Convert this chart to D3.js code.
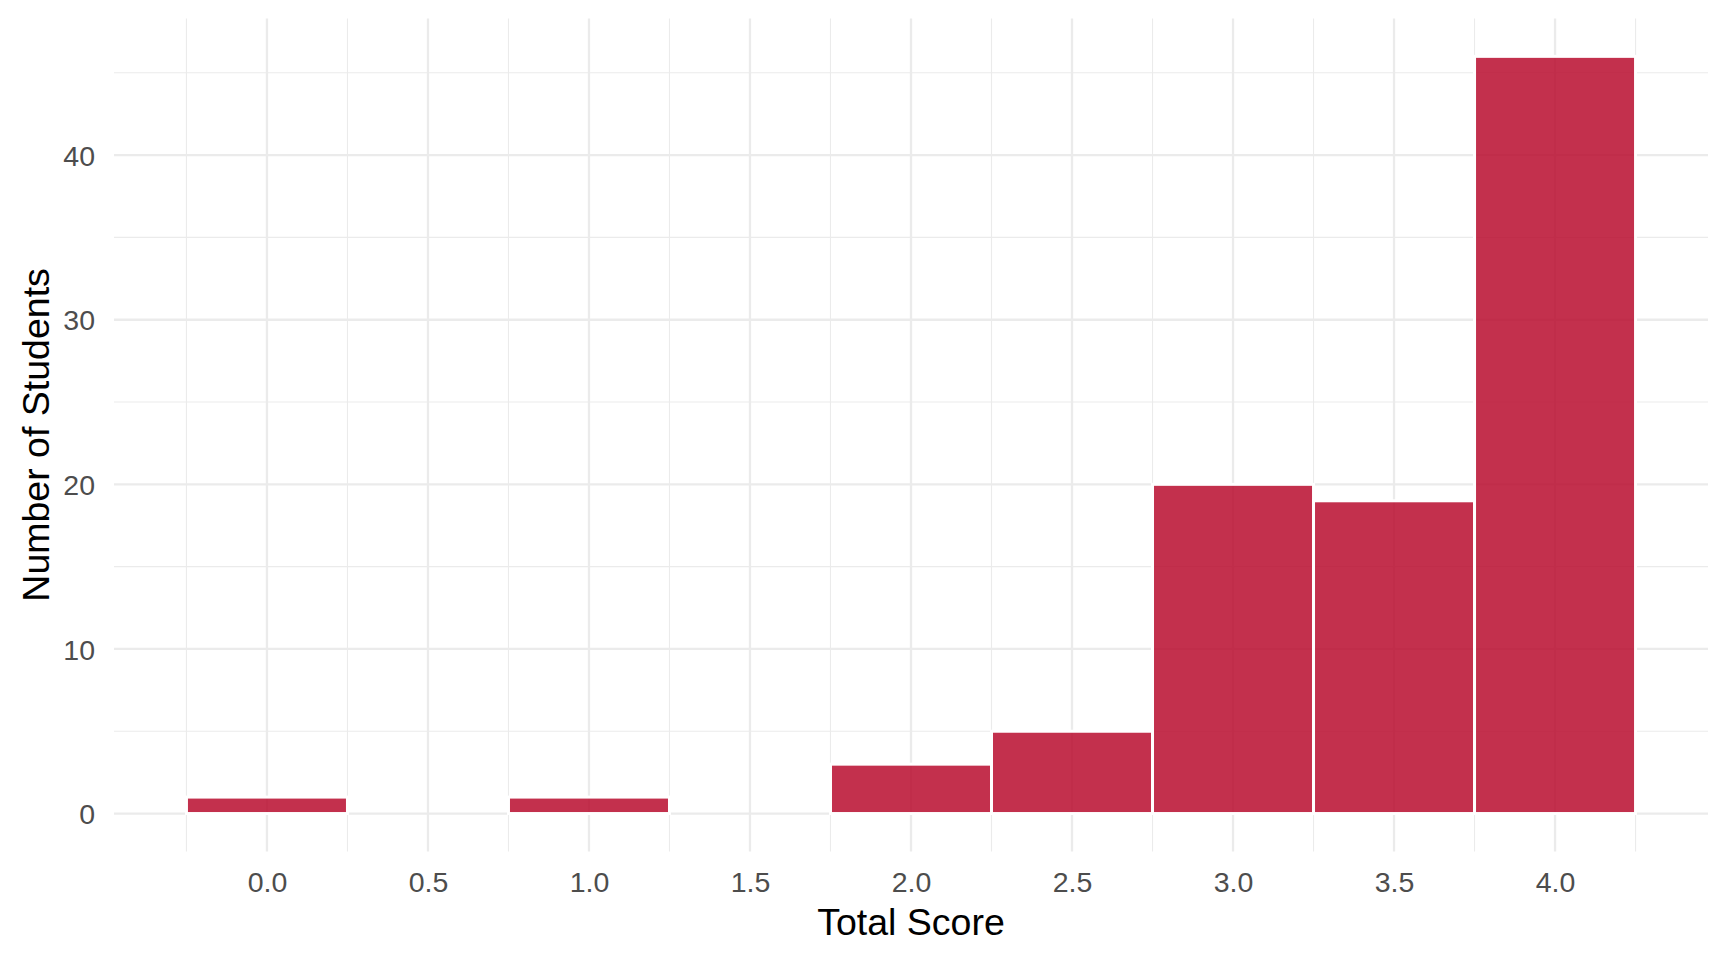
<!DOCTYPE html>
<html>
<head>
<meta charset="utf-8">
<script src="https://cdn.jsdelivr.net/npm/d3@7"></script>
<style>
  html, body { margin: 0; padding: 0; background: #ffffff; }
  svg { display: block; }
  text { font-family: "Liberation Sans", Arial, sans-serif; }
</style>
</head>
<body>
<svg id="chart" width="1728" height="960"></svg>
<script>
// ---- data ----
const binCenters = [0.0, 0.5, 1.0, 1.5, 2.0, 2.5, 3.0, 3.5, 4.0];
const counts     = [1, 0, 1, 0, 3, 5, 20, 19, 46];
const binWidth   = 0.5;
const xTickValues = [0.0, 0.5, 1.0, 1.5, 2.0, 2.5, 3.0, 3.5, 4.0];
const xTickLabels = ["0.0", "0.5", "1.0", "1.5", "2.0", "2.5", "3.0", "3.5", "4.0"];
const yTickValues = [0, 10, 20, 30, 40];
const yTickLabels = ["0", "10", "20", "30", "40"];
const xMinorValues = [-0.25, 0.25, 0.75, 1.25, 1.75, 2.25, 2.75, 3.25, 3.75, 4.25];
const yMinorValues = [5, 15, 25, 35, 45];
const xTitle = "Total Score";
const yTitle = "Number of Students";

// ---- layout ----
const svg = d3.select("#chart");
const panel = { left: 114, right: 1708, top: 18.5, bottom: 851.4 };

const xMin = d3.min(binCenters) - binWidth / 2, xMax = d3.max(binCenters) + binWidth / 2;
const xPad = (xMax - xMin) * 0.05;
const yMax = d3.max(counts);
const yPad = yMax * 0.05;

const x = d3.scaleLinear().domain([xMin - xPad, xMax + xPad]).range([panel.left, panel.right]);
const y = d3.scaleLinear().domain([-yPad, yMax + yPad]).range([panel.bottom, panel.top]);

const grid = svg.append("g").attr("class", "grid");
const gridColor = "#EBEBEB";

// minor grid
grid.append("g").selectAll("line").data(yMinorValues).join("line")
  .attr("x1", panel.left).attr("x2", panel.right)
  .attr("y1", d => y(d)).attr("y2", d => y(d))
  .attr("stroke", gridColor).attr("stroke-width", 1.1);
grid.append("g").selectAll("line").data(xMinorValues).join("line")
  .attr("y1", panel.top).attr("y2", panel.bottom)
  .attr("x1", d => x(d)).attr("x2", d => x(d))
  .attr("stroke", gridColor).attr("stroke-width", 1.1);
// major grid
grid.append("g").selectAll("line").data(yTickValues).join("line")
  .attr("x1", panel.left).attr("x2", panel.right)
  .attr("y1", d => y(d)).attr("y2", d => y(d))
  .attr("stroke", gridColor).attr("stroke-width", 2.3);
grid.append("g").selectAll("line").data(xTickValues).join("line")
  .attr("y1", panel.top).attr("y2", panel.bottom)
  .attr("x1", d => x(d)).attr("x2", d => x(d))
  .attr("stroke", gridColor).attr("stroke-width", 2.3);

// bars
const bins = binCenters.map((c, i) => ({ x0: c - binWidth / 2, x1: c + binWidth / 2, n: counts[i] }));
svg.append("g").selectAll("rect").data(bins).join("rect")
  .attr("x", d => x(d.x0))
  .attr("width", d => x(d.x1) - x(d.x0))
  .attr("y", d => y(d.n))
  .attr("height", d => y(0) - y(d.n))
  .attr("fill", "#B80C2E")
  .attr("fill-opacity", 0.85)
  .attr("stroke", "#ffffff")
  .attr("stroke-width", 3);

// x axis labels
const xAxis = d3.axisBottom(x).tickValues(xTickValues)
  .tickFormat((d, i) => xTickLabels[i]).tickSize(0).tickPadding(0);
const gx = svg.append("g").call(xAxis);
gx.select(".domain").remove();
gx.selectAll("text")
  .attr("y", 892).attr("dy", null)
  .attr("fill", "#4D4D4D")
  .style("font-size", "28.5px")
  .style("font-family", "'Liberation Sans', Arial, sans-serif");

// y axis labels
const yAxis = d3.axisLeft(y).tickValues(yTickValues)
  .tickFormat((d, i) => yTickLabels[i]).tickSize(0).tickPadding(0);
const gy = svg.append("g").attr("transform", "translate(95,0)").call(yAxis);
gy.select(".domain").remove();
gy.selectAll("text")
  .attr("x", 0).attr("dy", "0.36em")
  .attr("fill", "#4D4D4D")
  .style("font-size", "28.5px")
  .style("font-family", "'Liberation Sans', Arial, sans-serif");

// titles
svg.append("text")
  .attr("x", (panel.left + panel.right) / 2).attr("y", 935)
  .attr("text-anchor", "middle")
  .attr("fill", "#000000")
  .style("font-size", "37.5px")
  .text(xTitle);

svg.append("text")
  .attr("transform", `translate(48.5,${(panel.top + panel.bottom) / 2}) rotate(-90)`)
  .attr("text-anchor", "middle")
  .attr("fill", "#000000")
  .style("font-size", "37.5px")
  .text(yTitle);
</script>
</body>
</html>
